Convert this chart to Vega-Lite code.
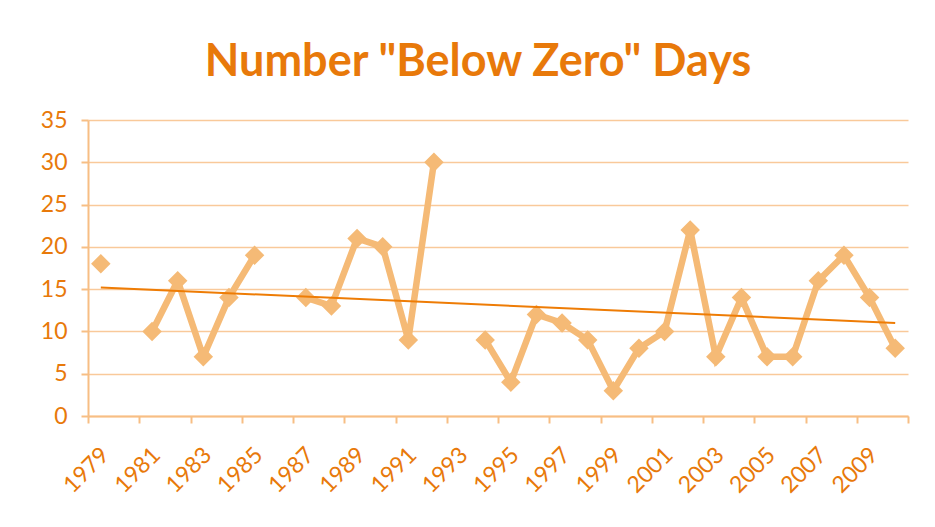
{
  "$schema": "https://vega.github.io/schema/vega-lite/v6.json",
  "autosize": "none",
  "width": 820,
  "height": 296,
  "padding": {"left": 88, "top": 120, "right": 27, "bottom": 111},
  "background": "white",
  "title": {
    "text": "Number \"Below Zero\" Days",
    "font": "Lato",
    "fontSize": 45,
    "fontWeight": "bold",
    "color": "#E8790A",
    "anchor": "middle",
    "frame": "group",
    "dx": -20,
    "offset": 24
  },
  "datasets": {
    "days": [
      {"year": 1979, "days": 18},
      {"year": 1980, "days": null},
      {"year": 1981, "days": 10},
      {"year": 1982, "days": 16},
      {"year": 1983, "days": 7},
      {"year": 1984, "days": 14},
      {"year": 1985, "days": 19},
      {"year": 1986, "days": null},
      {"year": 1987, "days": 14},
      {"year": 1988, "days": 13},
      {"year": 1989, "days": 21},
      {"year": 1990, "days": 20},
      {"year": 1991, "days": 9},
      {"year": 1992, "days": 30},
      {"year": 1993, "days": null},
      {"year": 1994, "days": 9},
      {"year": 1995, "days": 4},
      {"year": 1996, "days": 12},
      {"year": 1997, "days": 11},
      {"year": 1998, "days": 9},
      {"year": 1999, "days": 3},
      {"year": 2000, "days": 8},
      {"year": 2001, "days": 10},
      {"year": 2002, "days": 22},
      {"year": 2003, "days": 7},
      {"year": 2004, "days": 14},
      {"year": 2005, "days": 7},
      {"year": 2006, "days": 7},
      {"year": 2007, "days": 16},
      {"year": 2008, "days": 19},
      {"year": 2009, "days": 14},
      {"year": 2010, "days": 8}
    ],
    "trend": [
      {"year": 1979, "trend": 15.2},
      {"year": 2010, "trend": 11.0}
    ]
  },
  "config": {
    "view": {"stroke": null},
    "axis": {
      "labelFont": "Lato",
      "labelFontSize": 23,
      "labelColor": "#E8790A",
      "domainColor": "#F7BE84",
      "domainWidth": 2,
      "tickColor": "#F7BE84",
      "tickWidth": 2,
      "tickSize": 7,
      "gridColor": "#F9C99A",
      "gridWidth": 1.5,
      "title": null
    }
  },
  "layer": [
    {
      "data": {"name": "days"},
      "mark": {"type": "line", "color": "#F5BA76", "strokeWidth": 6.5, "strokeJoin": "miter", "invalid": "break-paths-show-domains"},
      "encoding": {
        "x": {
          "field": "year",
          "type": "quantitative",
          "scale": {"domain": [1978.5, 2010.5], "nice": false, "zero": false},
          "axis": {
            "values": [1978.5, 1979.5, 1980.5, 1981.5, 1982.5, 1983.5, 1984.5, 1985.5, 1986.5, 1987.5, 1988.5, 1989.5, 1990.5, 1991.5, 1992.5, 1993.5, 1994.5, 1995.5, 1996.5, 1997.5, 1998.5, 1999.5, 2000.5, 2001.5, 2002.5, 2003.5, 2004.5, 2005.5, 2006.5, 2007.5, 2008.5, 2009.5, 2010.5],
            "labelExpr": "((datum.value + 0.5) % 2 == 1 && datum.value < 2010) ? '' + (datum.value + 0.5) : ''",
            "labelOffset": 17,
            "labelAngle": -45,
            "labelAlign": "right",
            "labelBaseline": "middle",
            "labelPadding": 28,
            "labelOverlap": false,
            "labelBound": false,
            "labelFlush": false,
            "grid": false
          }
        },
        "y": {
          "field": "days",
          "type": "quantitative",
          "scale": {"domain": [0, 35], "nice": false},
          "axis": {"values": [0, 5, 10, 15, 20, 25, 30, 35], "grid": true, "labelPadding": 14}
        }
      }
    },
    {
      "data": {"name": "days"},
      "mark": {"type": "point", "shape": "diamond", "filled": true, "opacity": 1, "color": "#F5BA76", "size": 380},
      "encoding": {
        "x": {"field": "year", "type": "quantitative"},
        "y": {"field": "days", "type": "quantitative"}
      }
    },
    {
      "data": {"name": "trend"},
      "mark": {"type": "line", "color": "#EE7C05", "strokeWidth": 2},
      "encoding": {
        "x": {"field": "year", "type": "quantitative"},
        "y": {"field": "trend", "type": "quantitative"}
      }
    }
  ]
}
